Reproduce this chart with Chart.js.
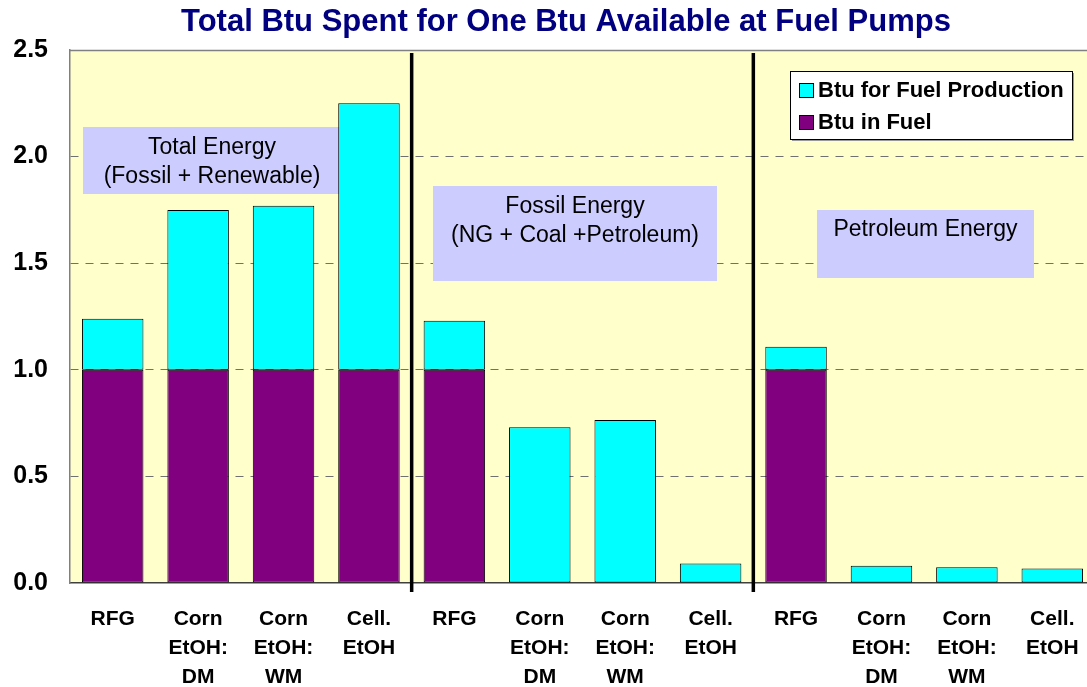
<!DOCTYPE html>
<html>
<head>
<meta charset="utf-8">
<script src="https://cdn.jsdelivr.net/npm/chart.js@4.4.1/dist/chart.umd.min.js"></script>
<style>
  html, body { margin: 0; padding: 0; background: #fff; overflow: hidden; }
  #wrap { width: 1095px; height: 687px; position: relative; }
</style>
</head>
<body>
<div id="wrap"><canvas id="myChart"></canvas></div>
<script>
// categories (3 groups of 4 fuels)
var categories = [
  ['RFG'], ['Corn', 'EtOH:', 'DM'], ['Corn', 'EtOH:', 'WM'], ['Cell.', 'EtOH'],
  ['RFG'], ['Corn', 'EtOH:', 'DM'], ['Corn', 'EtOH:', 'WM'], ['Cell.', 'EtOH'],
  ['RFG'], ['Corn', 'EtOH:', 'DM'], ['Corn', 'EtOH:', 'WM'], ['Cell.', 'EtOH']
];
var fuelBtu       = [1, 1, 1, 1,   1, 0, 0, 0,   1, 0, 0, 0];
var productionBtu = [0.24, 0.75, 0.77, 1.25,   0.23, 0.73, 0.765, 0.092,   0.108, 0.081, 0.074, 0.068];
var yTicks = [0, 0.5, 1.0, 1.5, 2.0, 2.5];
var groupNotes = [
  ['Total Energy', '(Fossil + Renewable)'],
  ['Fossil Energy', '(NG + Coal +Petroleum)'],
  ['Petroleum Energy']
];
var chartTitle = 'Total Btu Spent for One Btu Available at Fuel Pumps';

// dibuja fondo, separadores, cajas, leyenda y titulo
var decoPlugin = {
  id: 'deco',
  beforeDraw: function(chart) {
    var ctx = chart.ctx, a = chart.chartArea;
    ctx.save();
    ctx.fillStyle = '#FFFFCC';
    ctx.fillRect(a.left, a.top, a.right - a.left, a.bottom - a.top);
    ctx.restore();
  },
  beforeDatasetsDraw: function(chart) {
    var ctx = chart.ctx, a = chart.chartArea;
    ctx.save();
    // top frame line
    ctx.strokeStyle = '#808080';
    ctx.lineWidth = 1.5;
    ctx.beginPath();
    ctx.moveTo(a.left, a.top + 0.5);
    ctx.lineTo(a.right, a.top + 0.5);
    ctx.stroke();

    // note boxes
    var boxes = [
      { x: 83, y: 127, w: 258, h: 67, lines: [148, 177] },
      { x: 433, y: 186, w: 284, h: 95, lines: [207, 236] },
      { x: 817, y: 210, w: 217, h: 68, lines: [230] }
    ];
    ctx.font = '23px Arial, "Liberation Sans", sans-serif';
    ctx.textAlign = 'center';
    ctx.textBaseline = 'middle';
    boxes.forEach(function(b, i) {
      ctx.fillStyle = '#CCCCFF';
      ctx.fillRect(b.x, b.y, b.w, b.h);
      ctx.fillStyle = '#000';
      groupNotes[i].forEach(function(t, j) {
        ctx.fillText(t, b.x + b.w / 2, b.lines[j]);
      });
    });
    ctx.restore();
  },
  afterDatasetsDraw: function(chart) {
    var ctx = chart.ctx, a = chart.chartArea, xs = chart.scales.x;
    ctx.save();
    // group separators
    ctx.strokeStyle = '#000';
    ctx.lineWidth = 3.5;
    [3, 7].forEach(function(i) {
      var x = (xs.getPixelForValue(i) + xs.getPixelForValue(i + 1)) / 2;
      ctx.beginPath();
      ctx.moveTo(x, a.top + 3);
      ctx.lineTo(x, a.bottom + 9);
      ctx.stroke();
    });

    // legend
    var lx = 790, ly = 71, lw = 282, lh = 68;
    ctx.fillStyle = '#999';
    ctx.fillRect(lx + 2, ly + 2, lw, lh);
    ctx.fillStyle = '#fff';
    ctx.fillRect(lx, ly, lw, lh);
    ctx.lineWidth = 1;
    ctx.strokeStyle = '#000';
    ctx.strokeRect(lx + 0.5, ly + 0.5, lw, lh);
    var ds = chart.data.datasets.slice().reverse();
    ctx.font = 'bold 22px Arial, "Liberation Sans", sans-serif';
    ctx.textAlign = 'left';
    ctx.textBaseline = 'middle';
    ds.forEach(function(d, i) {
      var cy = 90 + i * 32;
      ctx.fillStyle = d.backgroundColor;
      ctx.fillRect(799, cy - 7, 14, 14);
      ctx.strokeRect(799.5, cy - 6.5, 14, 14);
      ctx.fillStyle = '#000';
      ctx.fillText(d.label, 818, cy + 1);
    });

    // title
    ctx.font = 'bold 31px Arial, "Liberation Sans", sans-serif';
    ctx.fillStyle = '#000080';
    ctx.textAlign = 'center';
    ctx.textBaseline = 'alphabetic';
    ctx.fillText(chartTitle, 566, 31);
    ctx.restore();
  }
};

var data = {
  labels: categories,
  datasets: [{
    label: 'Btu in Fuel',
    data: fuelBtu,
    backgroundColor: '#800080',
    borderColor: '#000',
    borderWidth: 1,
    borderSkipped: false,
    barPercentage: 0.72,
    categoryPercentage: 1
  }, {
    label: 'Btu for Fuel Production',
    data: productionBtu,
    backgroundColor: '#00FFFF',
    borderColor: '#000',
    borderWidth: 1,
    borderSkipped: false,
    barPercentage: 0.72,
    categoryPercentage: 1
  }]
};

const config = {
  type: 'bar',
  data: data,
  plugins: [decoPlugin],
  options: {
    responsive: true,
    maintainAspectRatio: false,
    animation: false,
    layout: { padding: { top: 50, left: 0, right: 0, bottom: 0 } },
    plugins: {
      legend: { display: false },
      title: { display: false },
      tooltip: { enabled: false }
    },
    scales: {
      x: {
        stacked: true,
        grid: { display: false, drawTicks: false },
        border: { display: true, color: '#404040', width: 1.5 },
        ticks: {
          color: '#000',
          font: { family: 'Arial, "Liberation Sans", sans-serif', size: 21, weight: 'bold', lineHeight: 1.38 },
          padding: 22,
          maxRotation: 0,
          autoSkip: false
        },
        afterFit: function(scale) {
          scale.height = 104;
          scale.paddingLeft = 0;
          scale.paddingRight = 0;
        }
      },
      y: {
        stacked: true,
        min: 0,
        max: 2.5,
        afterBuildTicks: function(scale) {
          scale.ticks = yTicks.map(function(v) { return { value: v }; });
        },
        grid: {
          drawTicks: false,
          color: function(c) {
            return (c.tick.value === 0 || c.tick.value === 2.5) ? 'rgba(0,0,0,0)' : '#707070';
          },
          lineWidth: 1
        },
        border: { display: true, color: '#808080', width: 1.5, dash: [8, 7] },
        ticks: {
          color: '#000',
          font: { family: 'Arial, "Liberation Sans", sans-serif', size: 25, weight: 'bold' },
          padding: 22,
          callback: function(value) { return value.toFixed(1); }
        },
        afterFit: function(scale) { scale.width = 70; }
      }
    }
  }
};

const myChart = new Chart(document.getElementById('myChart'), config);
</script>
</body>
</html>
